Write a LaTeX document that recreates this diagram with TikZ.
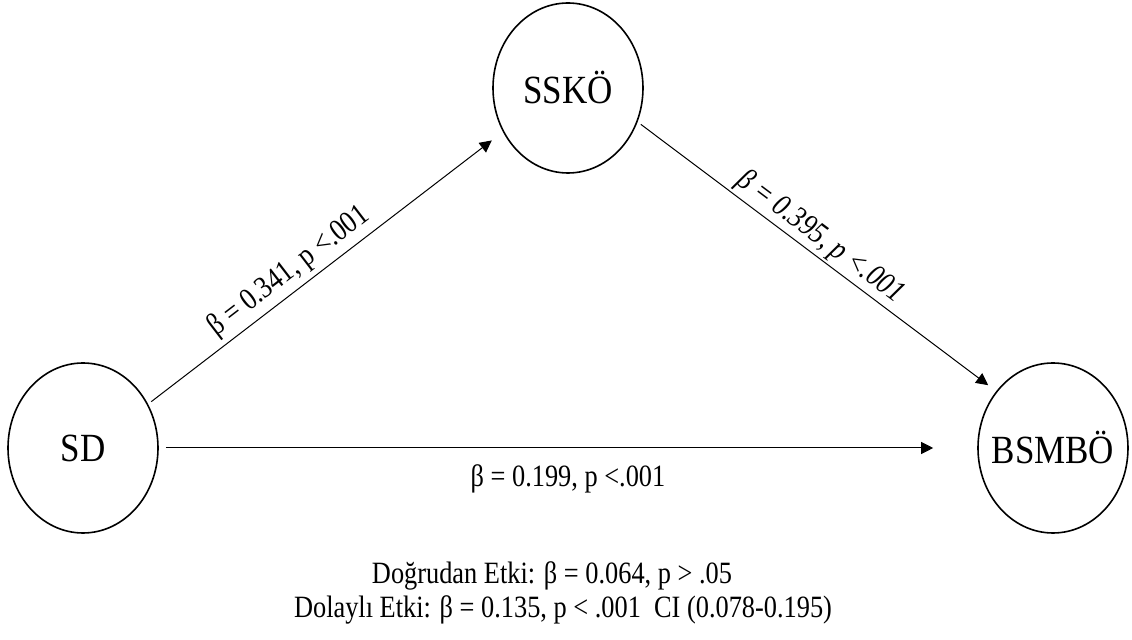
\documentclass[tikz,border=0pt]{standalone}
\usepackage{fontspec}
\setmainfont[FakeStretch=0.875]{Liberation Serif}
\newfontfamily\coeffont[FakeStretch=0.85]{Liberation Serif}
\usetikzlibrary{shapes.geometric,arrows.meta}

\begin{document}
\begin{tikzpicture}[x=0.5pt,y=-0.5pt,
  var/.style={ellipse,draw,line width=0.8pt,minimum width=75pt,minimum height=85pt,inner xsep=-12pt,inner ysep=0pt,font=\fontsize{20}{24}\selectfont},
  path/.style={-{Triangle[length=6pt,width=6pt]},line width=0.5pt},
  coef/.style={font=\coeffont\fontsize{15.5}{18}\selectfont}]
\useasboundingbox (0,0) rectangle (1132,640);
\node[var] (sd) at (83,448) {SD};
\node[var] (sskoe) at (568,88) {SSKÖ};
\node[var] (bsmboe) at (1053,448) {BSMBÖ};
\draw[path,shorten <=2pt,shorten >=7pt] (sd.34) -- node[coef,sloped,above=-1pt,pos=0.43] {β = 0.341, p <.001} (sskoe.214);
\draw[path,shorten <=2pt,shorten >=5pt] (sskoe.-26) -- node[coef,sloped,above=-2pt,font=\coeffont\fontsize{15.5}{18}\selectfont\itshape,pos=0.48] {β = 0.395, p <.001} (bsmboe.135);
\draw[path,shorten <=3.5pt,shorten >=22pt] (sd.east) -- node[coef,below=5pt,pos=0.5] {β = 0.199, p <.001} (bsmboe.west);
\node[coef,anchor=base] (direct) at (552,584) {Doğrudan Etki: β = 0.064, p > .05};
\node[coef,anchor=base] (indirect) at (563,618) {Dolaylı Etki: β = 0.135, p < .001~~CI (0.078-0.195)};
\end{tikzpicture}
\end{document}
